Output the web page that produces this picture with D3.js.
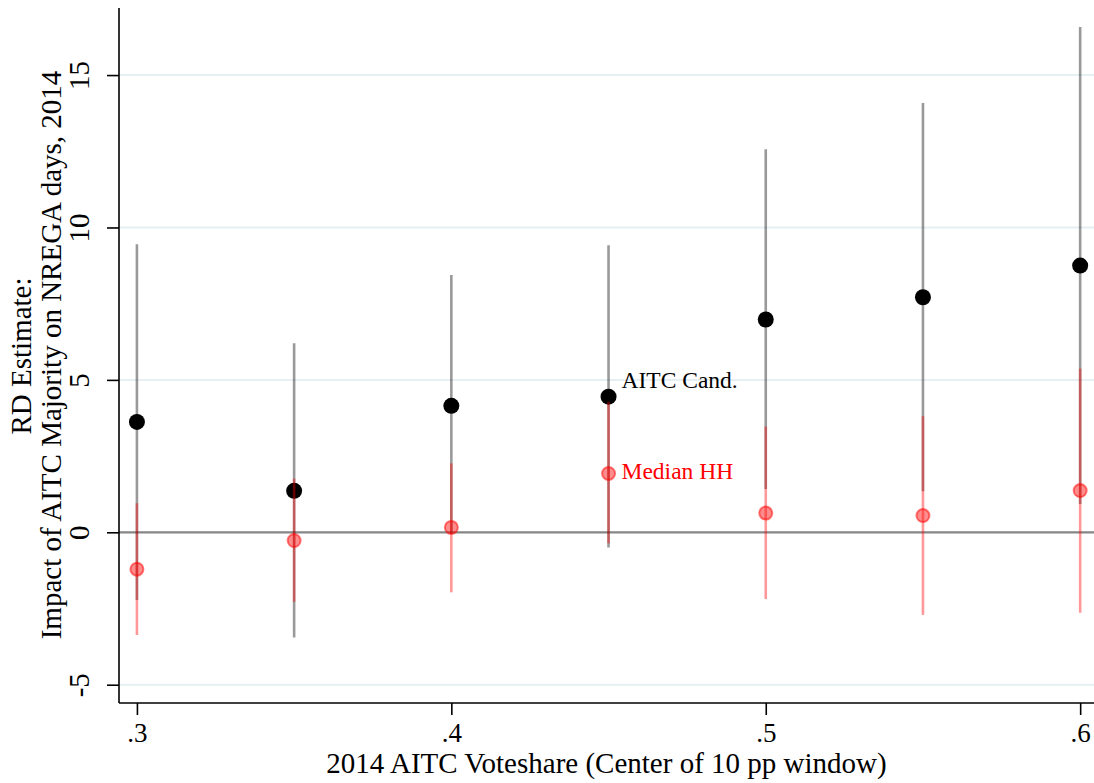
<!DOCTYPE html>
<html>
<head>
<meta charset="utf-8">
<script src="https://cdn.jsdelivr.net/npm/d3@7"></script>
<style>
  body { margin: 0; background: #fff; }
  svg { display: block; font-family: "Liberation Serif", "Times New Roman", serif; }
</style>
</head>
<body>
<div id="chart"></div>
<script>
// window centers (2014 AITC voteshare)
var centers = [0.30, 0.35, 0.40, 0.45, 0.50, 0.55, 0.60];

// AITC candidate RD estimates + CI
var candEst = [3.62, 1.36, 4.15, 4.45, 6.98, 7.71, 8.75];
var candLo  = [-2.22, -3.45, -0.05, -0.50, 1.42, 1.35, 0.93];
var candHi  = [9.45, 6.20, 8.44, 9.42, 12.57, 14.08, 16.58];

// median household RD estimates + CI
var hhEst = [-1.21, -0.27, 0.16, 1.93, 0.63, 0.55, 1.37];
var hhLo  = [-3.37, -2.28, -1.97, -0.36, -2.19, -2.71, -2.64];
var hhHi  = [0.95, 1.76, 2.26, 4.28, 3.47, 3.81, 5.37];

var xTicks = [0.3, 0.4, 0.5, 0.6];
var xTickLabels = [".3", ".4", ".5", ".6"];
var yTicks = [-5, 0, 5, 10, 15];
var yTickLabels = ["-5", "0", "5", "10", "15"];

var margin = {top: 8, right: 0, bottom: 80, left: 119},
    width = 1094 - margin.left - margin.right,
    height = 783 - margin.top - margin.bottom;

var svg = d3.select("#chart").append("svg")
    .attr("width", width + margin.left + margin.right)
    .attr("height", height + margin.top + margin.bottom);

var g = svg.append("g")
    .attr("transform", "translate(" + margin.left + "," + margin.top + ")");

var x = d3.scaleLinear().domain([0.2943, 0.6044]).range([0, width]);
var y = d3.scaleLinear().domain([-5.6, 17.2]).range([height, 0]);

// light gridlines
g.append("g").selectAll("line").data(yTicks).enter()
    .append("line")
    .attr("x1", 0).attr("x2", width)
    .attr("y1", function(d) { return y(d); })
    .attr("y2", function(d) { return y(d); })
    .style("stroke", "#e6eff1")
    .style("stroke-width", 2);

// zero reference line
g.append("line")
    .attr("x1", 0).attr("x2", width)
    .attr("y1", y(0)).attr("y2", y(0))
    .style("stroke", "#888")
    .style("stroke-width", 2.2);

// AITC candidate: CI spikes and points
g.append("g").selectAll("line").data(centers).enter()
    .append("line")
    .attr("x1", function(d) { return x(d); })
    .attr("x2", function(d) { return x(d); })
    .attr("y1", function(d, i) { return y(candLo[i]); })
    .attr("y2", function(d, i) { return y(candHi[i]); })
    .style("stroke", "#000")
    .style("stroke-opacity", 0.4)
    .style("stroke-width", 2.6);

g.append("g").selectAll("circle").data(centers).enter()
    .append("circle")
    .attr("cx", function(d) { return x(d); })
    .attr("cy", function(d, i) { return y(candEst[i]); })
    .attr("r", 8)
    .style("fill", "#000");

// median HH: CI spikes and points
g.append("g").selectAll("line").data(centers).enter()
    .append("line")
    .attr("x1", function(d) { return x(d); })
    .attr("x2", function(d) { return x(d); })
    .attr("y1", function(d, i) { return y(hhLo[i]); })
    .attr("y2", function(d, i) { return y(hhHi[i]); })
    .style("stroke", "#ff0000")
    .style("stroke-opacity", 0.4)
    .style("stroke-width", 2.6);

g.append("g").selectAll("circle").data(centers).enter()
    .append("circle")
    .attr("cx", function(d) { return x(d); })
    .attr("cy", function(d, i) { return y(hhEst[i]); })
    .attr("r", 6.5)
    .style("fill", "#ff0000")
    .style("fill-opacity", 0.45)
    .style("stroke", "#ff0000")
    .style("stroke-opacity", 0.5)
    .style("stroke-width", 2);

// series labels next to the .45 window
g.append("text")
    .attr("x", x(0.45) + 13)
    .attr("y", y(candEst[3]) - 9)
    .style("font-size", "23.5px")
    .style("fill", "#000")
    .text("AITC Cand.");

g.append("text")
    .attr("x", x(0.45) + 13)
    .attr("y", y(hhEst[3]) + 6)
    .style("font-size", "23.5px")
    .style("fill", "#ff0000")
    .text("Median HH");

// axes
var xAxis = g.append("g")
    .attr("transform", "translate(0," + height + ")")
    .call(d3.axisBottom(x).tickValues(xTicks)
        .tickFormat(function(d, i) { return xTickLabels[i]; })
        .tickSize(12));
xAxis.select(".domain").attr("d", "M0,0H" + width);

var yAxis = g.append("g")
    .call(d3.axisLeft(y).tickValues(yTicks)
        .tickFormat(function(d, i) { return yTickLabels[i]; })
        .tickSize(12));
yAxis.select(".domain").attr("d", "M0,0V" + height);

[xAxis, yAxis].forEach(function(a) {
    a.selectAll("path, line").style("stroke", "#000").style("stroke-width", 1.6);
    a.selectAll("text").style("font-family", "Liberation Serif, serif")
        .style("font-size", "29px").style("fill", "#000");
});

yAxis.selectAll(".tick text")
    .attr("x", null).attr("dy", null)
    .attr("transform", "translate(-30,0) rotate(-90)")
    .style("text-anchor", "middle");

xAxis.selectAll(".tick text")
    .attr("y", 39).attr("dy", null)
    .style("font-size", "27px");

// axis titles
svg.append("text")
    .attr("x", margin.left + width / 2)
    .attr("y", 773)
    .style("text-anchor", "middle")
    .style("font-size", "29px")
    .text("2014 AITC Voteshare (Center of 10 pp window)");

svg.append("text")
    .attr("transform", "translate(31,356) rotate(-90)")
    .style("text-anchor", "middle")
    .style("font-size", "29px")
    .text("RD Estimate:");

svg.append("text")
    .attr("transform", "translate(61,355) rotate(-90)")
    .style("text-anchor", "middle")
    .style("font-size", "29px")
    .text("Impact of AITC Majority on NREGA days, 2014");
</script>
</body>
</html>
